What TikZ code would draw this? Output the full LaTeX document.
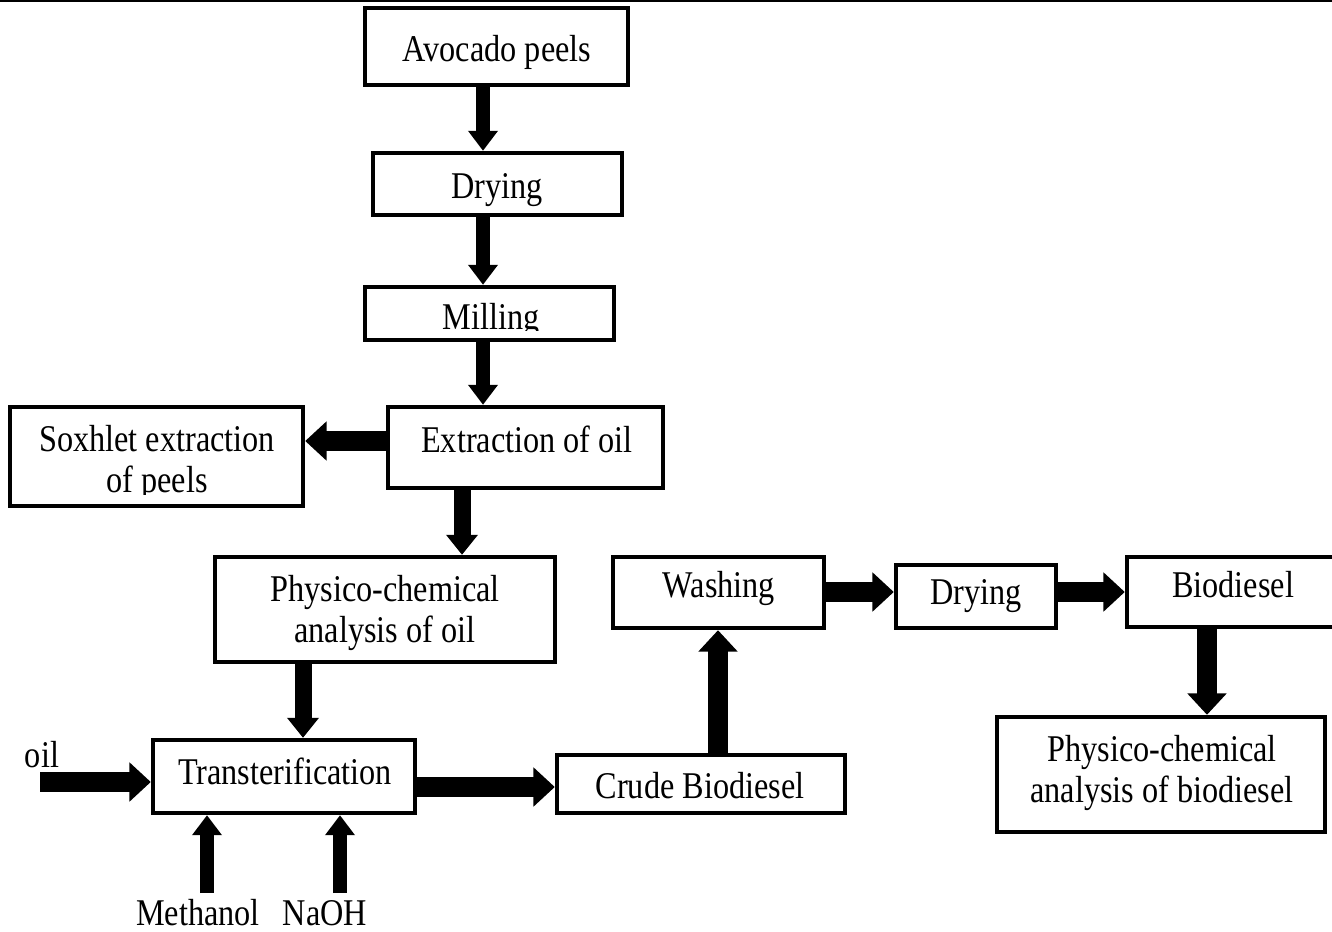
\documentclass[tikz,border=0pt]{standalone}
\usepackage{fontspec}
\setmainfont{Liberation Serif}
\usepackage{graphicx}
\usetikzlibrary{arrows.meta,calc}
\newcommand{\lbl}[1]{\scalebox{1}[1.17]{\begin{tabular}[t]{@{}c@{}}#1\end{tabular}}}
\begin{document}
\begin{tikzpicture}[x=0.75pt,y=-0.75pt,
  bx/.style 2 args={draw,line width=3.3pt,inner sep=0pt,minimum width=#1*0.75pt,minimum height=#2*0.75pt},
  tx/.style={anchor=base,inner sep=0pt,font=\fontsize{24.2}{26.9}\selectfont},
  thinarr/.style={line width=10.5pt,-{Triangle[width=21.5pt,length=15pt]}},
  medarr/.style={line width=12.75pt,-{Triangle[width=23pt,length=15pt]}},
  thickarr/.style={line width=15pt,-{Triangle[width=28.5pt,length=16pt]}}]
\useasboundingbox (0,0) rectangle (1332,932);
\draw[line width=1.5pt] (0,1) -- (1332,1);
% boxes
\node[bx={263}{77}] (avo) at (496.5,46.5) {};
\node[bx={249}{62}] (dry1) at (497.5,184) {};
\node[bx={249}{53}] (mill) at (489.5,313.5) {};
\node[bx={275}{81}] (ext) at (525.5,447.5) {};
\node[bx={293}{99}] (sox) at (156.5,456.5) {};
\node[bx={340}{105}] (pco) at (385,609.5) {};
\node[bx={262}{73}] (tra) at (284,776.5) {};
\node[bx={288}{58}] (cru) at (701,784) {};
\node[bx={211}{71}] (was) at (718.5,592.5) {};
\node[bx={160}{63}] (dry2) at (976,596.5) {};
\node[bx={218}{70}] (bio) at (1236,592) {};
\node[bx={328}{115}] (pcb) at (1161,774.5) {};
% texts
\node[tx] (tavo) at (497,61) {\lbl{Avocado peels}};
\node[tx] (tdry1) at (497,198) {\lbl{Drying}};
\begin{scope}
\clip (300,250) rectangle (700,330);
\node[tx] (tmill) at (491,329) {\lbl{Milling}};
\end{scope}
\node[tx] (text) at (527,452) {\lbl{Extraction of oil}};
\begin{scope}
\clip (0,380) rectangle (320,494);
\node[tx] (tsox) at (157,451) {\lbl{Soxhlet extraction\\of peels}};
\end{scope}
\node[tx] (tpco) at (385,601) {\lbl{Physico-chemical\\analysis of oil}};
\node[tx] (ttra) at (285,784) {\lbl{Transterification}};
\node[tx] (tcru) at (700,798) {\lbl{Crude Biodiesel}};
\node[tx] (twas) at (719,597) {\lbl{Washing}};
\node[tx] (tdry2) at (976,604) {\lbl{Drying}};
\node[tx] (tbio) at (1233,597) {\lbl{Biodiesel}};
\node[tx] (tpcb) at (1162,761) {\lbl{Physico-chemical\\analysis of biodiesel}};
\node[tx] (toil) at (42,767) {\lbl{oil}};
\node[tx] (tmet) at (198,925) {\lbl{Methanol}};
\node[tx] (tnaoh) at (325,925) {\lbl{NaOH}};
% guide coordinates
\coordinate (x483) at (483,0);
\coordinate (x462) at (462,0);
\coordinate (x303) at (303,0);
\coordinate (x718) at (718,0);
\coordinate (x1207) at (1207,0);
\coordinate (y441) at (0,441);
\coordinate (y787) at (0,787);
\coordinate (y592) at (0,592);
\coordinate (oilstart) at (40,782);
\coordinate (metstart) at (207,893);
\coordinate (naohstart) at (340,893);
% arrows
\draw[thinarr] (avo.south -| x483) -- (dry1.north -| x483);
\draw[thinarr] (dry1.south -| x483) -- (mill.north -| x483);
\draw[thinarr] (mill.south -| x483) -- (ext.north -| x483);
\draw[thickarr] (ext.west |- y441) -- (sox.east |- y441);
\draw[medarr] (ext.south -| x462) -- (pco.north -| x462);
\draw[medarr] (pco.south -| x303) -- (tra.north -| x303);
\draw[thickarr] (oilstart) -- (tra.west |- oilstart);
\draw[thinarr] (metstart) -- (tra.south -| metstart);
\draw[thinarr] (naohstart) -- (tra.south -| naohstart);
\draw[thickarr] (tra.east |- y787) -- (cru.west |- y787);
\draw[thickarr] (cru.north -| x718) -- (was.south -| x718);
\draw[thickarr] (was.east |- y592) -- (dry2.west |- y592);
\draw[thickarr] (dry2.east |- y592) -- (bio.west |- y592);
\draw[thickarr] (bio.south -| x1207) -- (pcb.north -| x1207);
\end{tikzpicture}
\end{document}
